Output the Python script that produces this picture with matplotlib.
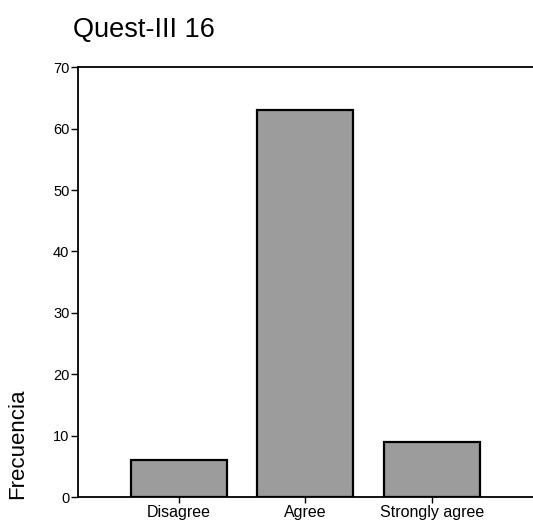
import matplotlib
matplotlib.use("Agg")
import matplotlib.pyplot as plt

categories = ["Disagree", "Agree", "Strongly agree"]
counts = [6, 63, 9]
yticks = [0, 10, 20, 30, 40, 50, 60, 70]

plt.rcParams["font.family"] = ["Liberation Sans", "DejaVu Sans"]

fig = plt.figure(figsize=(5.33, 5.21), dpi=100)
ax = fig.add_axes([0.146, 0.046, 0.854, 0.825])

x = range(len(categories))
ax.bar(x, counts, width=0.76, color="#9c9c9c", edgecolor="black", linewidth=1.6)

ax.set_xlim(-0.8, 2.8)
ax.set_ylim(0, 70)
ax.set_yticks(yticks)
ax.set_xticks(list(x))
ax.set_xticklabels(categories, fontsize=11.5)
ax.tick_params(axis="y", labelsize=10.5, length=5, width=1, pad=1)
ax.tick_params(axis="x", length=4, width=1, pad=1.5)

for side in ["left", "bottom", "top"]:
    ax.spines[side].set_linewidth(1.3)
ax.spines["right"].set_visible(False)

fig.text(0.137, 0.943, "Quest-III 16", fontsize=19.5, ha="left", va="center")
fig.text(0.034, 0.148, "Frecuencia", fontsize=16, rotation=90, ha="center", va="center")

fig.savefig("out.png", dpi=100)
